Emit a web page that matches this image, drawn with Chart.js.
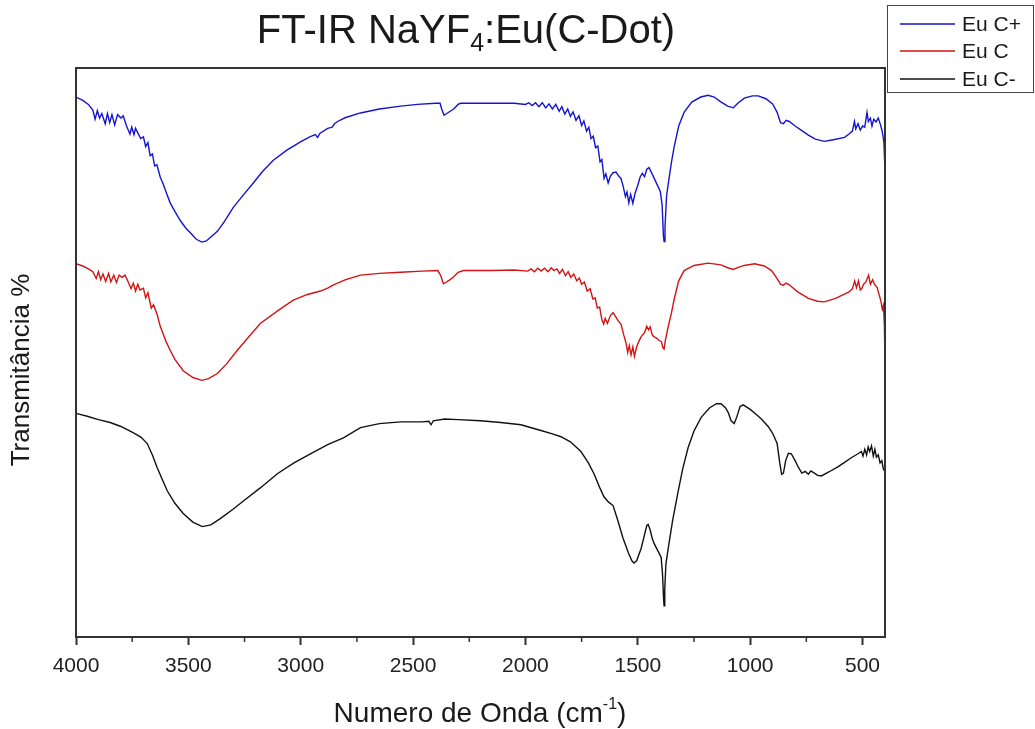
<!DOCTYPE html>
<html>
<head>
<meta charset="utf-8">
<script src="https://cdn.jsdelivr.net/npm/chart.js"></script>
<style>
  html, body { margin: 0; padding: 0; background: #fff; }
  #wrap { width: 1035px; height: 729px; }
</style>
</head>
<body>
<div id="wrap"><canvas id="myChart" width="1035" height="729"></canvas></div>
<script>
// wavenumber (cm-1) and transmittance (arbitrary offset units)
const seriesNames = ["Eu C+", "Eu C", "Eu C-"];
const seriesColors = ["#1414d2", "#d21414", "#111111"];

const blueWn = [4000,3970,3945,3925,3915,3905,3895,3885,3870,3860,3850,3840,3828,3815,3800,3790,3775,3760,3752,3742,3735,3725,3712,3700,3690,3680,3670,3660,3650,3640,3625,3612,3600,3581,3560,3536,3510,3490,3465,3440,3420,3400,3371,3340,3300,3255,3211,3170,3122,3060,3001,2960,2935,2925,2915,2880,2860,2850,2836,2800,2734,2650,2555,2480,2400,2380,2372,2362,2350,2335,2319,2300,2288,2200,2110,2050,2000,1985,1970,1955,1940,1925,1910,1895,1880,1865,1850,1838,1825,1812,1800,1788,1775,1762,1750,1740,1728,1718,1708,1698,1688,1678,1668,1660,1650,1642,1632,1622,1610,1597,1585,1575,1565,1555,1548,1540,1532,1522,1512,1500,1490,1480,1470,1460,1450,1440,1427,1415,1400,1392,1386,1383,1379,1372,1365,1350,1338,1318,1294,1260,1220,1187,1160,1129,1100,1075,1055,1026,990,964,930,900,880,865,852,840,826,800,770,741,710,670,630,580,560,545,536,530,520,510,500,490,480,474,465,458,450,440,430,420,412,405,400];
const blueT = [94.9,94.3,93.6,92.6,91.0,92.5,91.2,92.0,90.2,92.0,90.4,91.8,90.0,91.8,91.2,91.6,89.8,88.4,89.6,88.3,89.4,88.6,87.6,87.9,86.2,86.9,84.6,84.9,82.8,83.0,80.8,79.6,78.3,76.3,74.8,73.2,71.8,71.0,69.9,69.4,69.6,70.3,71.3,73.0,75.5,77.7,79.8,81.8,83.8,85.6,87.0,87.9,88.3,87.8,88.5,89.4,89.6,90.2,90.6,91.3,92.1,92.8,93.3,93.6,93.8,93.8,92.7,91.7,92.0,92.4,92.8,93.6,93.8,93.8,93.8,93.8,93.6,93.9,93.4,93.9,93.2,93.9,93.0,93.7,92.8,93.6,92.4,93.2,91.9,92.8,91.5,92.3,90.8,91.6,89.9,90.7,88.9,89.6,87.6,88.0,86.0,86.3,83.5,83.9,80.6,81.4,79.8,81.0,81.6,81.7,81.0,80.6,79.2,77.4,78.2,76.3,77.8,76.2,78.0,79.4,80.8,81.5,80.9,82.2,82.5,81.7,80.6,79.6,78.3,76.0,70.5,69.5,72.0,77.5,79.5,83.5,86.2,89.8,92.2,94.0,94.9,95.2,94.9,94.0,93.3,93.0,93.8,94.7,95.1,95.1,94.6,93.7,92.2,90.4,90.2,90.8,90.6,89.8,89.0,88.2,87.5,87.1,87.4,87.8,88.4,88.9,90.6,89.3,90.2,89.1,89.8,89.6,92.2,90.6,91.2,89.8,91.0,90.5,91.2,90.0,88.8,87.0,82.0];

const redWn = [4000,3970,3945,3925,3910,3900,3890,3880,3868,3855,3845,3832,3820,3808,3795,3782,3770,3755,3745,3735,3725,3715,3700,3690,3680,3665,3655,3640,3625,3600,3581,3560,3523,3480,3440,3410,3371,3330,3282,3230,3180,3100,3033,2970,2912,2880,2854,2800,2734,2650,2555,2460,2390,2378,2365,2355,2335,2319,2300,2275,2150,2050,1990,1975,1960,1945,1930,1915,1900,1885,1873,1860,1848,1835,1822,1810,1798,1785,1772,1760,1750,1738,1725,1712,1700,1690,1680,1670,1660,1652,1645,1635,1622,1610,1600,1588,1575,1562,1552,1545,1538,1530,1522,1515,1505,1495,1485,1470,1460,1452,1445,1435,1425,1415,1405,1395,1388,1383,1378,1365,1350,1338,1318,1294,1250,1187,1130,1100,1075,1050,1026,980,937,905,880,865,852,840,826,790,741,700,670,620,562,545,535,527,518,510,504,495,485,473,465,455,447,435,425,418,412,407,403,400];
const redT = [65.6,65.2,64.7,64.2,63.0,64.2,62.8,63.8,62.5,63.9,62.4,63.6,62.3,63.6,63.2,63.6,62.6,61.2,62.2,60.8,62.0,61.0,61.3,59.6,60.5,57.8,58.4,56.8,54.6,52.0,50.4,48.8,46.8,45.6,45.1,45.4,46.3,48.0,50.4,52.8,55.1,57.4,59.2,60.2,60.8,61.3,61.9,62.8,63.6,63.9,64.1,64.3,64.4,63.6,62.1,62.3,62.8,63.3,64.1,64.4,64.4,64.5,64.3,64.7,64.2,64.8,64.3,64.8,64.2,64.9,64.4,64.7,63.9,64.6,63.5,64.2,63.2,63.8,62.6,63.1,62.0,62.4,60.8,61.2,59.4,59.6,57.8,58.0,55.8,55.0,56.0,55.1,56.5,57.0,56.4,55.6,55.0,53.0,51.6,50.0,51.2,49.6,51.0,49.3,51.0,52.0,52.8,53.5,54.6,54.0,54.5,53.0,52.7,52.5,52.1,51.9,50.8,50.6,52.0,54.5,57.0,59.4,62.6,64.4,65.3,65.7,65.4,64.9,64.6,65.0,65.3,65.6,65.2,64.4,63.0,62.0,61.8,62.2,61.9,60.7,59.5,59.0,58.9,59.5,60.6,61.2,62.6,61.4,62.6,61.0,61.2,62.0,62.4,63.6,62.0,62.8,62.0,61.4,60.0,59.0,57.6,58.3,55.0,48.8];

const blackWn = [4000,3950,3900,3848,3800,3746,3710,3683,3660,3639,3615,3594,3560,3523,3480,3438,3400,3358,3300,3255,3180,3104,3030,2957,2880,2810,2734,2650,2555,2460,2430,2420,2410,2360,2300,2200,2110,2020,1931,1880,1842,1800,1753,1720,1695,1670,1650,1630,1610,1590,1566,1540,1525,1517,1505,1495,1485,1470,1460,1454,1445,1435,1427,1410,1396,1390,1385,1383,1380,1375,1365,1345,1320,1300,1276,1250,1218,1180,1150,1130,1110,1097,1085,1071,1060,1045,1031,1000,970,950,920,900,880,868,860,852,842,830,817,800,785,770,755,741,730,714,700,683,650,610,580,550,520,505,498,490,482,475,468,460,452,445,438,430,422,414,408,400];
const blackT = [39.3,38.8,38.2,37.7,37.0,35.9,35.1,34.0,32.0,29.8,27.6,25.7,23.5,21.7,20.2,19.4,19.7,20.8,22.5,23.9,26.2,28.7,30.6,32.2,33.8,35.0,36.8,37.5,37.8,37.8,37.9,37.3,38.0,38.3,38.2,38.0,37.7,37.3,36.3,35.7,35.2,34.3,32.6,30.6,28.7,26.3,24.6,23.7,23.1,20.6,17.4,14.6,13.3,13.0,13.4,14.5,15.6,18.0,19.6,19.8,18.8,17.2,16.4,15.1,14.0,11.0,6.5,5.5,8.5,12.8,15.5,20.5,25.7,29.6,33.3,36.2,38.6,40.3,41.0,41.0,40.3,39.4,38.0,37.5,38.6,40.5,40.8,40.0,39.0,38.3,37.0,35.8,34.0,30.5,28.6,28.8,31.0,32.3,32.2,31.0,29.8,28.8,29.1,28.6,29.2,28.8,28.4,28.3,29.0,29.9,30.7,31.5,32.2,32.6,31.8,33.0,32.0,33.4,32.6,33.6,31.8,33.0,31.6,32.0,30.6,31.0,29.6,29.0];

const majorTicks = [4000, 3500, 3000, 2500, 2000, 1500, 1000, 500];
const minorTicks = [3750, 3250, 2750, 2250, 1750, 1250, 750];

function pairs(xs, ys) {
  return xs.map((x, i) => ({ x: x, y: ys[i] }));
}

const FONT = "'Liberation Sans', Arial, sans-serif";

function drawRich(ctx, parts, cx, baseline) {
  let w = 0;
  parts.forEach(p => {
    ctx.font = p.size + "px " + FONT;
    p.w = ctx.measureText(p.t).width;
    w += p.w;
  });
  let x = cx - w / 2;
  ctx.textAlign = "left";
  ctx.textBaseline = "alphabetic";
  parts.forEach(p => {
    ctx.font = p.size + "px " + FONT;
    ctx.fillText(p.t, x, baseline + (p.dy || 0));
    x += p.w;
  });
}

const decorPlugin = {
  id: "decor",
  afterDraw(chart) {
    const ctx = chart.ctx;
    const a = chart.chartArea;
    const xs = chart.scales.x;
    ctx.save();
    // frame round the plot
    ctx.strokeStyle = "#333";
    ctx.lineWidth = 2;
    ctx.strokeRect(a.left, a.top, a.right - a.left, a.bottom - a.top);
    // minor ticks
    ctx.lineWidth = 1.5;
    minorTicks.forEach(v => {
      const px = xs.getPixelForValue(v);
      ctx.beginPath();
      ctx.moveTo(px, a.bottom);
      ctx.lineTo(px, a.bottom + 5);
      ctx.stroke();
    });

    ctx.fillStyle = "#1a1a1a";
    // title with subscript
    drawRich(ctx, [
      { t: "FT-IR NaYF", size: 40 },
      { t: "4", size: 25, dy: 8 },
      { t: ":Eu(C-Dot)", size: 40 }
    ], 466, 43);
    // x axis title with superscript
    drawRich(ctx, [
      { t: "Numero de Onda (cm", size: 28 },
      { t: "-1", size: 16, dy: -13 },
      { t: ")", size: 28 }
    ], 480, 722);
    // y axis title
    ctx.save();
    ctx.translate(29, 370);
    ctx.rotate(-Math.PI / 2);
    ctx.font = "26px " + FONT;
    ctx.textAlign = "center";
    ctx.fillText("Transmitância %", 0, 0);
    ctx.restore();

    // legend box
    ctx.strokeStyle = "#444";
    ctx.lineWidth = 1;
    ctx.fillStyle = "#fff";
    ctx.fillRect(887.5, 5.5, 146, 87);
    ctx.strokeRect(887.5, 5.5, 146, 87);
    const rows = [24, 51, 79];
    chart.data.datasets.forEach((ds, i) => {
      ctx.strokeStyle = ds.borderColor;
      ctx.lineWidth = 1.5;
      ctx.beginPath();
      ctx.moveTo(900, rows[i]);
      ctx.lineTo(955, rows[i]);
      ctx.stroke();
      ctx.fillStyle = "#1a1a1a";
      ctx.font = "21px " + FONT;
      ctx.textAlign = "left";
      ctx.textBaseline = "middle";
      ctx.fillText(ds.label, 962, rows[i] + 1);
    });
    ctx.restore();
  }
};

const ctx = document.getElementById("myChart");

let ch = new Chart(ctx, {
  type: "line",
  data: {
    datasets: [
      { label: seriesNames[0], data: pairs(blueWn, blueT), borderColor: seriesColors[0] },
      { label: seriesNames[1], data: pairs(redWn, redT), borderColor: seriesColors[1] },
      { label: seriesNames[2], data: pairs(blackWn, blackT), borderColor: seriesColors[2] }
    ]
  },
  options: {
    responsive: false,
    animation: false,
    devicePixelRatio: 1,
    parsing: false,
    elements: {
      line: { borderWidth: 1.4, tension: 0, fill: false },
      point: { radius: 0 }
    },
    layout: { padding: { left: 76, top: 68, right: 150, bottom: 0 } },
    plugins: {
      legend: { display: false },
      title: { display: false },
      tooltip: { enabled: false }
    },
    scales: {
      x: {
        type: "linear",
        reverse: true,
        min: 400,
        max: 4000,
        afterBuildTicks: (s) => { s.ticks = majorTicks.map(v => ({ value: v })); },
        afterFit: (s) => { s.height = 92; },
        border: { display: true, color: "#333", width: 2 },
        grid: { drawOnChartArea: false, drawTicks: true, tickLength: 8, tickColor: "#333", tickWidth: 2 },
        ticks: {
          color: "#222",
          padding: 9,
          maxRotation: 0,
          autoSkip: false,
          font: { family: FONT, size: 21 },
          callback: (v) => String(v)
        }
      },
      y: {
        min: 0,
        max: 100,
        afterFit: (s) => { s.width = 0; },
        border: { display: true, color: "#333", width: 2 },
        grid: { display: false },
        ticks: { display: false }
      }
    }
  },
  plugins: [decorPlugin]
});
</script>
</body>
</html>
